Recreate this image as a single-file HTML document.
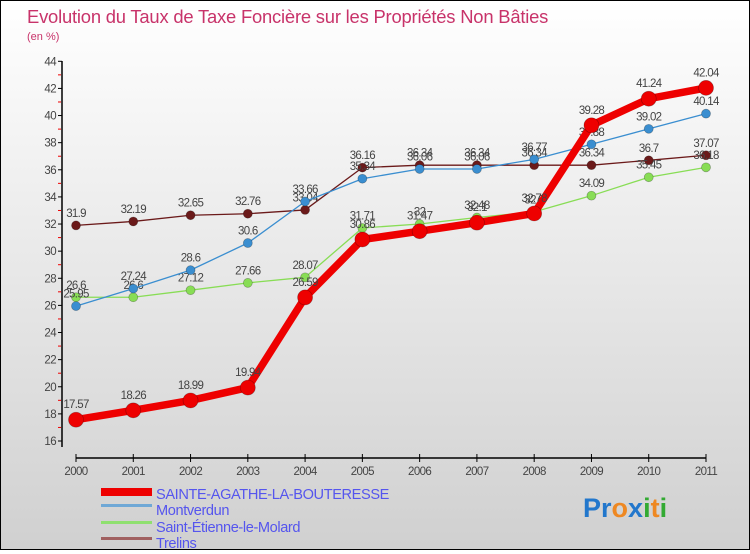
<!DOCTYPE html>
<html><head><meta charset="utf-8"><style>
body{margin:0;width:750px;height:550px;overflow:hidden;font-family:"Liberation Sans",sans-serif}
#wrap{position:relative;width:748px;height:548px;border:1px solid #000;background:linear-gradient(#ffffff,#d0d0d0)}
</style></head><body>
<div id="wrap">
<svg id="chart" width="748" height="548" xmlns="http://www.w3.org/2000/svg">
<text x="26" y="22" font-size="18.4" fill="#c8336a" letter-spacing="-0.2">Evolution du Taux de Taxe Foncière sur les Propriétés Non Bâties</text>
<text x="26" y="39" font-size="11" fill="#c8336a">(en %)</text>
<g id="axes"></g><g id="series"></g>
<g>
<rect x="100" y="487" width="51" height="8" fill="#e00"/>
<text x="155" y="498" font-size="14.6" fill="#5555ee" letter-spacing="-0.4">SAINTE-AGATHE-LA-BOUTERESSE</text>
<rect x="100" y="503" width="51" height="3" fill="#6fa8d6"/>
<text x="155" y="514" font-size="14.6" fill="#5555ee" letter-spacing="-0.4">Montverdun</text>
<rect x="100" y="520" width="51" height="3" fill="#8fe070"/>
<text x="155" y="531" font-size="14.6" fill="#5555ee" letter-spacing="-0.4">Saint-Étienne-le-Molard</text>
<rect x="100" y="536" width="51" height="3" fill="#a06060"/>
<text x="155" y="547" font-size="14.6" fill="#5555ee" letter-spacing="-0.4">Trelins</text>
</g>
<text x="582" y="516" font-size="27" font-weight="bold"><tspan fill="#2277cc">Pr</tspan><tspan fill="#ee8822">o</tspan><tspan fill="#2277cc">x</tspan><tspan fill="#33aa33">i</tspan><tspan fill="#ee8822">t</tspan><tspan fill="#33aa33">i</tspan></text>
</svg>
</div>
<script>
const years=[2000,2001,2002,2003,2004,2005,2006,2007,2008,2009,2010,2011];
const sainteAgathe=[17.57,18.26,18.99,19.94,26.59,30.86,31.47,32.1,32.78,39.28,41.24,42.04];
const montverdun=[25.95,27.24,28.6,30.6,33.66,35.34,36.06,36.06,36.77,37.88,39.02,40.14];
const saintEtienne=[26.6,26.6,27.12,27.66,28.07,31.71,32,32.48,32.9,34.09,35.45,36.18];
const trelins=[31.9,32.19,32.65,32.76,33.04,36.16,36.34,36.34,36.34,36.34,36.7,37.07];
const yTicks=[16,18,20,22,24,26,28,30,32,34,36,38,40,42,44];
const NS="http://www.w3.org/2000/svg";
function xs(i){return 75+i*(705-75)/(years.length-1);}
function ys(v){return 440-(v-16)*(440-60.3)/28;}
function mk(tag,attrs,parent){const e=document.createElementNS(NS,tag);for(const k in attrs)e.setAttribute(k,attrs[k]);parent.appendChild(e);return e;}
const ax=document.getElementById('axes');
let l=mk('line',{x1:61,y1:60,x2:61,y2:446,stroke:'#000','stroke-width':1.5},ax);


l=mk('line',{x1:75,y1:457,x2:705,y2:457,stroke:'#000','stroke-width':1.5},ax);


yTicks.forEach(t=>{const y=ys(t);
 mk('line',{x1:57,y1:y,x2:61,y2:y,stroke:'#000'},ax);
 mk('line',{x1:57,y1:ys(t+1),x2:60,y2:ys(t+1),stroke:t<44?'#e00':'none'},ax);
 const tx=mk('text',{x:55,y:y+4,'font-size':11.5,fill:'#444','text-anchor':'end','letter-spacing':'-0.6'},ax);tx.textContent=t;
 
 
});
years.forEach((yr,i)=>{const x=xs(i);
 mk('line',{x1:x,y1:453,x2:x,y2:461,stroke:'#000'},ax);
 const tx=mk('text',{x:x,y:474,'font-size':11.5,fill:'#444','text-anchor':'middle','letter-spacing':'-0.6'},ax);tx.textContent=yr;
 
 
});
const sg=document.getElementById('series');
function draw(data,color,w,r,name){
 const g=mk('g',{},sg);
 
 
 const p=mk('polyline',{points:data.map((v,i)=>xs(i)+','+ys(v)).join(' '),fill:'none',stroke:color,'stroke-width':w,'stroke-linejoin':'round'},g);
 
 
 data.forEach((v,i)=>{
  const c=mk('circle',{cx:xs(i),cy:ys(v),r:r,fill:color,stroke:'rgba(0,0,0,0.3)','stroke-width':0.7},g);
  
  
  const t=mk('text',{x:xs(i),y:ys(v)-r-4,'font-size':11.5,fill:'#444','text-anchor':'middle','letter-spacing':'-0.7'},g);t.textContent=v;
  
  
 });
}
draw(trelins,'#6b1a1a',1.3,4.5,'trelins');
draw(saintEtienne,'#88dd55',1.3,4.5,'saint-etienne');
draw(montverdun,'#3a8ed0',1.3,4.5,'montverdun');
draw(sainteAgathe,'#ee0000',7.5,7.5,'sainte-agathe');
</script>
</body></html>
